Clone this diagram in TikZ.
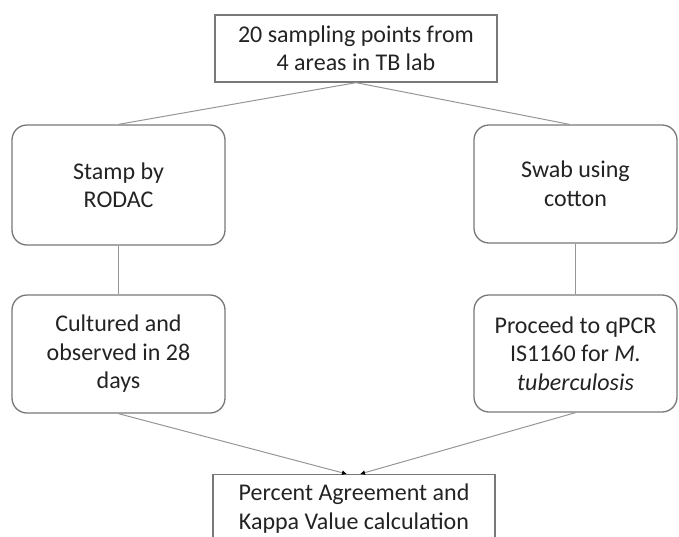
\documentclass[tikz,border=0pt]{standalone}
\usepackage{fontspec}
\setmainfont{Carlito}
\usetikzlibrary{arrows.meta}

\definecolor{edgegray}{RGB}{120,120,120}
\definecolor{linkgray}{RGB}{150,150,150}
\definecolor{inkgray}{RGB}{35,35,35}

\tikzstyle{stage}=[draw=edgegray, line width=1.3pt, align=center, text=inkgray, font=\fontsize{24}{28.5}\selectfont]
\tikzstyle{method}=[stage, rounded corners=15pt]
\tikzstyle{link}=[draw=linkgray, line width=1pt]
\tikzstyle{arrow}=[link, -{Latex[length=5pt, width=5pt, black]}]

\begin{document}
\begin{tikzpicture}[x=1pt, y=-1pt]
      \useasboundingbox (0,0) rectangle (679,536);
      \node[stage, minimum width=282, minimum height=67] (src) at (356, 48.5) {20 sampling points from\\4 areas in TB lab};
      \node[method, minimum width=213, minimum height=120] (stamp) at (118.5, 185) {Stamp by\\RODAC};
      \node[method, minimum width=203, minimum height=118] (swab) at (575.5, 184) {Swab using\\cotton};
      \node[method, minimum width=213, minimum height=118] (cult) at (118.5, 354) {Cultured and\\observed in 28\\days};
      \node[method, minimum width=203, minimum height=117] (pcr) at (575.5, 353.5) {Proceed to qPCR\\IS1160 for \textit{M.}\\\textit{tuberculosis}};
      \node[stage, minimum width=282, minimum height=68, anchor=north] (calc) at (354, 474) {Percent Agreement and\\Kappa Value calculation};

      \draw[link] (src.south) to (stamp.north);
      \draw[link] (src.south) to ([xshift=-6]swab.north);
      \draw[link] (stamp) to (cult);
      \draw[link] (swab) to (pcr);
      \draw[arrow] (cult.south) to ([xshift=-7]calc.north);
      \draw[arrow] (pcr.south) to ([xshift=6]calc.north);
    \end{tikzpicture}
\end{document}
